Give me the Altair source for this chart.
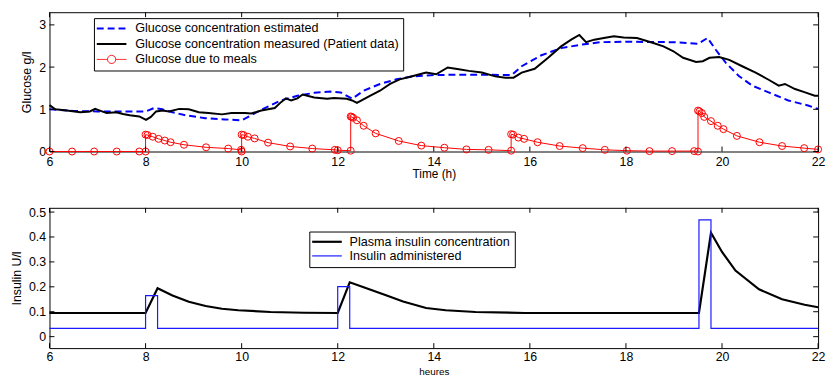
import altair as alt
import pandas as pd

# ---------------- data ----------------
hours_ticks = [6, 8, 10, 12, 14, 16, 18, 20, 22]
glucose_ticks = [0, 1, 2, 3]
insulin_ticks = [0, 0.1, 0.2, 0.3, 0.4, 0.5]

est_t = [6.0, 6.5, 7.0, 7.5, 8.0, 8.18, 8.35, 8.56, 8.83, 9.24, 9.65, 10.0, 10.2, 10.48,
         10.82, 11.16, 11.51, 11.85, 12.06, 12.30, 12.54, 12.88, 13.22, 13.57, 14.0, 14.5,
         15.0, 15.62, 15.83, 16.24, 16.65, 17.06, 17.47, 18.0, 19.0, 19.50, 19.70, 19.87,
         20.08, 20.35, 20.63, 20.97, 21.38, 21.79, 22.0]
est_v = [1.00, 0.96, 0.95, 0.95, 0.95, 1.03, 1.00, 0.93, 0.86, 0.79, 0.76, 0.74, 0.86, 1.03,
         1.21, 1.32, 1.39, 1.42, 1.40, 1.25, 1.44, 1.60, 1.71, 1.78, 1.81, 1.82,
         1.82, 1.81, 2.02, 2.28, 2.45, 2.53, 2.59, 2.60, 2.59, 2.55, 2.69, 2.41,
         2.10, 1.79, 1.56, 1.40, 1.21, 1.09, 1.01]

meas_t = [6.0, 6.12, 6.36, 6.64, 6.84, 6.95, 7.05, 7.19, 7.39, 7.53, 7.67, 7.87, 8.01, 8.11,
          8.22, 8.35, 8.49, 8.70, 8.90, 9.11, 9.31, 9.59, 9.79, 10.07, 10.20, 10.41, 10.69,
          10.82, 10.92, 11.03, 11.16, 11.27, 11.51, 11.78, 11.92, 12.19, 12.30, 12.40, 12.67,
          12.88, 13.09, 13.29, 13.57, 13.84, 14.05, 14.29, 14.52, 14.73, 15.00, 15.28, 15.49,
          15.66, 15.83, 16.10, 16.38, 16.65, 16.86, 17.03, 17.17, 17.34, 17.54, 17.75, 17.95,
          18.23, 18.57, 18.78, 18.98, 19.19, 19.46, 19.60, 19.74, 19.94, 20.15, 20.42, 20.70,
          20.97, 21.18, 21.31, 21.52, 21.73, 21.93, 22.00]
meas_v = [1.10, 1.00, 0.97, 0.93, 0.95, 1.01, 0.97, 0.91, 0.93, 0.89, 0.86, 0.83, 0.75, 0.82,
          0.95, 0.97, 0.95, 1.01, 1.00, 0.93, 0.91, 0.88, 0.91, 0.91, 0.90, 0.97, 1.03,
          1.17, 1.26, 1.21, 1.26, 1.35, 1.28, 1.25, 1.27, 1.25, 1.21, 1.15, 1.32,
          1.44, 1.60, 1.71, 1.79, 1.87, 1.83, 1.99, 1.95, 1.91, 1.87, 1.78, 1.75,
          1.75, 1.87, 1.96, 2.22, 2.49, 2.65, 2.76, 2.59, 2.65, 2.69, 2.73, 2.70,
          2.69, 2.57, 2.49, 2.38, 2.22, 2.12, 2.14, 2.22, 2.24, 2.17, 2.02, 1.87,
          1.70, 1.56, 1.60, 1.48, 1.40, 1.32, 1.32]

meal_t = [6.0, 6.47, 6.93, 7.40, 7.87, 8.0,
          8.0, 8.04, 8.15, 8.27, 8.40, 8.52, 8.80, 9.26, 9.72, 9.99, 10.0,
          10.0, 10.04, 10.13, 10.27, 10.55, 11.01, 11.47, 11.94, 12.0, 12.27,
          12.27, 12.29, 12.32, 12.40, 12.54, 12.79, 13.27, 13.74, 14.22, 14.68, 15.14, 15.61,
          15.61, 15.65, 15.76, 15.88, 16.16, 16.62, 17.10, 17.56, 18.02, 18.49, 18.96, 19.42, 19.50,
          19.50, 19.53, 19.58, 19.63, 19.77, 19.91, 20.03, 20.31, 20.78, 21.25, 21.71, 22.0]
meal_v = [0.0, 0.0, 0.0, 0.0, 0.0, 0.0,
          0.40, 0.39, 0.35, 0.30, 0.26, 0.22, 0.16, 0.10, 0.07, 0.04, 0.0,
          0.40, 0.39, 0.35, 0.31, 0.21, 0.12, 0.07, 0.04, 0.03, 0.02,
          0.83, 0.82, 0.80, 0.74, 0.61, 0.43, 0.25, 0.14, 0.09, 0.05, 0.04, 0.02,
          0.41, 0.40, 0.33, 0.30, 0.22, 0.13, 0.08, 0.04, 0.02, 0.01, 0.01, 0.01, 0.0,
          0.97, 0.95, 0.91, 0.82, 0.72, 0.61, 0.53, 0.37, 0.22, 0.13, 0.08, 0.05]

plasma_t = [6.0, 8.0, 8.25, 8.56, 8.9, 9.25, 9.59, 9.93, 10.6, 11.3, 12.0, 12.25, 12.54,
            13.02, 13.36, 13.84, 14.25, 14.87, 15.9, 19.52, 19.77, 20.0, 20.28, 20.77,
            21.25, 21.72, 22.0]
plasma_v = [0.095, 0.095, 0.194, 0.165, 0.140, 0.123, 0.112, 0.106, 0.099, 0.096, 0.095,
            0.218, 0.198, 0.165, 0.141, 0.115, 0.106, 0.099, 0.095, 0.095, 0.417, 0.34,
            0.265, 0.19, 0.15, 0.128, 0.118]

admin_t = [6.0, 8.0, 8.0, 8.25, 8.25, 12.0, 12.0, 12.25, 12.25, 19.52, 19.52, 19.77, 19.77, 22.0]
admin_v = [0.033, 0.033, 0.165, 0.165, 0.033, 0.033, 0.201, 0.201, 0.033, 0.033, 0.469,
           0.469, 0.033, 0.033]

S_EST = "Glucose concentration estimated"
S_MEAS = "Glucose concentration measured (Patient data)"
S_MEAL = "Glucose due to meals"
S_PLAS = "Plasma insulin concentration"
S_ADM = "Insulin administered"


def frame(ts, vs, name):
    return pd.DataFrame({"t": ts, "v": vs, "series": name, "i": list(range(len(ts)))})


df_est = frame(est_t, est_v, S_EST)
df_meas = frame(meas_t, meas_v, S_MEAS)
df_meal = frame(meal_t, meal_v, S_MEAL)
df_plas = frame(plasma_t, plasma_v, S_PLAS)
df_adm = frame(admin_t, admin_v, S_ADM)
df_xt = pd.DataFrame({"t": hours_ticks})
df_gt = pd.DataFrame({"v": glucose_ticks})
df_it = pd.DataFrame({"v": insulin_ticks})

FONT = "Liberation Sans"
LFS = 12.75
W = 778
H1 = 141
H2 = 142
TK = 5
LINE_PATH = "M-1,0L3,0"
CIRC_PATH = "M-1,0L0.45,0M1.55,0L3,0M0.45,0A0.55,0.55,0,1,1,1.55,0A0.55,0.55,0,1,1,0.45,0"

xscale = alt.Scale(domain=[6, 22], nice=False, zero=False)

# ---------------- top panel ----------------
top_dom = [S_EST, S_MEAS, S_MEAL]
top_legend = alt.Legend(
    title=None, orient="none", legendX=45, legendY=6,
    fillColor="white", strokeColor="black", padding=4, cornerRadius=0,
    labelFont=FONT, labelFontSize=LFS, labelColor="black", labelOffset=25,
    symbolSize=225, rowPadding=1.7, symbolFillColor="transparent", labelLimit=400,
    symbolType=alt.ExprRef(expr="datum.value === '" + S_MEAL + "' ? '" + CIRC_PATH +
                           "' : '" + LINE_PATH + "'"),
    symbolDash=alt.ExprRef(expr="datum.value === '" + S_EST + "' ? [7, 4] : [1, 0]"),
    symbolStrokeWidth=alt.ExprRef(expr="datum.value === '" + S_MEAL + "' ? 1 : 2"),
)
top_color = alt.Color("series:N", scale=alt.Scale(domain=top_dom,
                      range=["#0000ff", "#000000", "#ff0000"]), legend=top_legend)

xaxis_top = alt.Axis(values=hours_ticks, format="d", title="Time (h)", labelPadding=4,
                     titlePadding=1, labelFlush=False, labelOverlap=False, titleFontSize=12)
yaxis_top = alt.Axis(values=glucose_ticks, format="d", title="Glucose g/l", labelPadding=4,
                     titlePadding=5, labelFlush=False, labelOverlap=False)
yscale_top = alt.Scale(domain=[0, 3.3], nice=False)

X_top = alt.X("t:Q", scale=xscale, axis=xaxis_top)
Y_top = alt.Y("v:Q", scale=yscale_top, axis=yaxis_top)

l_est = alt.Chart(df_est).mark_line(strokeDash=[7, 4], strokeWidth=2).encode(
    x=X_top, y=Y_top, color=top_color, order="i:Q")
l_meas = alt.Chart(df_meas).mark_line(strokeWidth=2).encode(
    x=X_top, y=Y_top, color=top_color, order="i:Q")
l_meal = alt.Chart(df_meal).mark_line(strokeWidth=1).encode(
    x=X_top, y=Y_top, color=top_color, order="i:Q")
p_meal = alt.Chart(df_meal).mark_point(filled=False, size=50, strokeWidth=1, opacity=1,
                                        color="#ff0000").encode(x=X_top, y=Y_top)

tk_xb = alt.Chart(df_xt).mark_rule(color="black", strokeWidth=1).encode(
    x=X_top, y=alt.value(H1), y2=alt.value(H1 - TK))
tk_xt = alt.Chart(df_xt).mark_rule(color="black", strokeWidth=1).encode(
    x=X_top, y=alt.value(0), y2=alt.value(TK))
tk_yl = alt.Chart(df_gt).mark_rule(color="black", strokeWidth=1).encode(
    y=Y_top, x=alt.value(0), x2=alt.value(TK))
tk_yr = alt.Chart(df_gt).mark_rule(color="black", strokeWidth=1).encode(
    y=Y_top, x=alt.value(W), x2=alt.value(W - TK))

top = alt.layer(l_est, l_meas, l_meal, p_meal, tk_xb, tk_xt, tk_yl, tk_yr).properties(
    width=W, height=H1)

# ---------------- bottom panel ----------------
bot_dom = [S_PLAS, S_ADM]
bot_legend = alt.Legend(
    title=None, orient="none", legendX=263, legendY=24,
    fillColor="white", strokeColor="black", padding=4, cornerRadius=0,
    labelFont=FONT, labelFontSize=LFS, labelColor="black", labelOffset=24,
    symbolType=LINE_PATH, symbolSize=225, rowPadding=0.3, symbolFillColor="transparent",
    labelLimit=400,
    symbolStrokeWidth=alt.ExprRef(expr="datum.value === '" + S_ADM + "' ? 1.2 : 2.2"),
)
bot_color = alt.Color("series:N", scale=alt.Scale(domain=bot_dom,
                      range=["#000000", "#1a1aff"]), legend=bot_legend)

xaxis_bot = alt.Axis(values=hours_ticks, format="d", title="heures", labelPadding=3,
                     titlePadding=3, labelFlush=False, labelOverlap=False, titleFontSize=10)
yaxis_bot = alt.Axis(values=insulin_ticks, title="Insulin U/l", labelPadding=4, titlePadding=5,
                     labelFlush=False, labelOverlap=False,
                     labelExpr="datum.value == 0 ? '0' : format(datum.value, '.1f')")
yscale_bot = alt.Scale(domain=[-0.046, 0.517], nice=False, zero=False)

X_bot = alt.X("t:Q", scale=xscale, axis=xaxis_bot)
Y_bot = alt.Y("v:Q", scale=yscale_bot, axis=yaxis_bot)

l_plas = alt.Chart(df_plas).mark_line(strokeWidth=2.2).encode(
    x=X_bot, y=Y_bot, color=bot_color, order="i:Q")
l_adm = alt.Chart(df_adm).mark_line(strokeWidth=1.2).encode(
    x=X_bot, y=Y_bot, color=bot_color, order="i:Q")

tk2_xb = alt.Chart(df_xt).mark_rule(color="black", strokeWidth=1).encode(
    x=X_bot, y=alt.value(H2), y2=alt.value(H2 - TK))
tk2_xt = alt.Chart(df_xt).mark_rule(color="black", strokeWidth=1).encode(
    x=X_bot, y=alt.value(0), y2=alt.value(TK))
tk2_yl = alt.Chart(df_it).mark_rule(color="black", strokeWidth=1).encode(
    y=Y_bot, x=alt.value(0), x2=alt.value(TK))
tk2_yr = alt.Chart(df_it).mark_rule(color="black", strokeWidth=1).encode(
    y=Y_bot, x=alt.value(W), x2=alt.value(W - TK))

bottom = alt.layer(l_plas, l_adm, tk2_xb, tk2_xt, tk2_yl, tk2_yr).properties(
    width=W, height=H2)

chart = alt.vconcat(top, bottom, spacing=25).resolve_scale(
    color="independent", y="independent"
).resolve_legend(color="independent").properties(
    padding={"left": 2, "top": 1, "right": 0, "bottom": 0},
    background="white",
).configure_view(stroke="black", strokeWidth=1).configure_axis(
    grid=False, ticks=False, domain=False,
    labelFont=FONT, labelFontSize=12.5, labelColor="black",
    titleFont=FONT, titleFontSize=12.5, titleFontWeight="normal", titleColor="black",
)

chart.save("out.html", embed_options={"renderer": "svg", "actions": False})
